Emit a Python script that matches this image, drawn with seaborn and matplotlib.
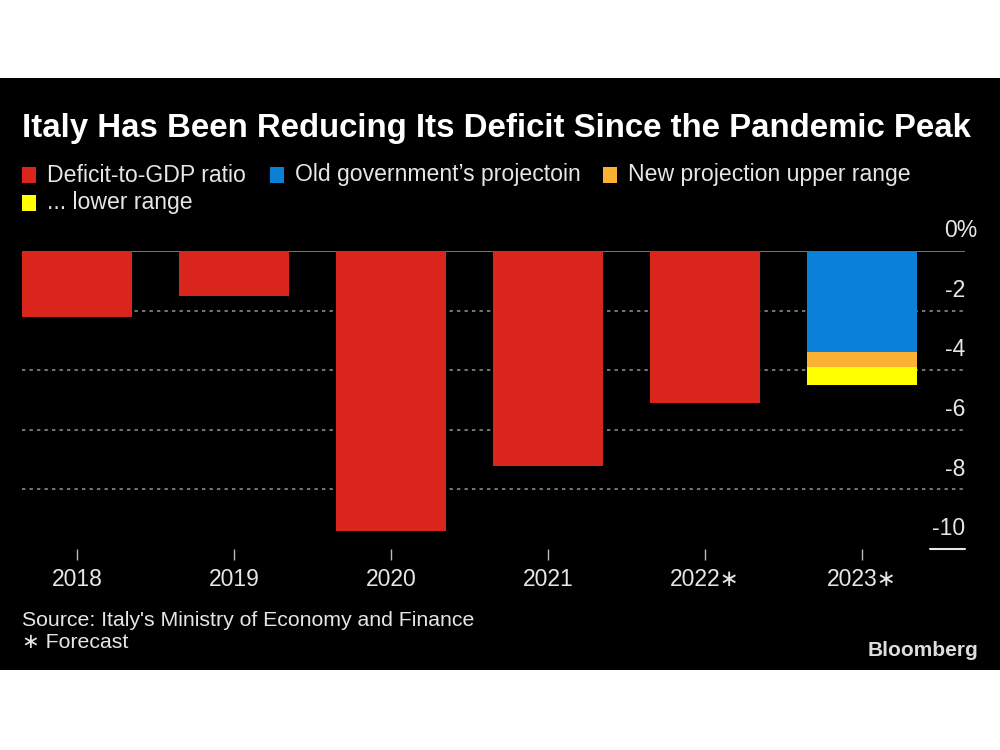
import matplotlib
matplotlib.use("Agg")
import matplotlib.pyplot as plt
import matplotlib.patches as mpatches
from matplotlib.transforms import blended_transform_factory
import seaborn as sns
import pandas as pd
import numpy as np

# ---- data ----
years = ["2018", "2019", "2020", "2021", "2022\u2217", "2023\u2217"]
deficit = [-2.2, -1.5, -9.4, -7.2, -5.1, np.nan]
old_projection = [np.nan, np.nan, np.nan, np.nan, np.nan, -3.4]
new_upper = [np.nan, np.nan, np.nan, np.nan, np.nan, -3.9]
new_lower = [np.nan, np.nan, np.nan, np.nan, np.nan, -4.5]
y_ticks = [0, -2, -4, -6, -8, -10]
y_tick_labels = ["0%", "-2", "-4", "-6", "-8", "-10"]
legend_labels = ["Deficit-to-GDP ratio", "Old government\u2019s projectoin",
                 "New projection upper range", "... lower range"]

RED = "#DA251D"
BLUE = "#0A80D8"
ORANGE = "#F9B233"
YELLOW = "#FFFF00"
GRID = "#8A8A8A"
TXT = "#E6E6E6"

sns.set_theme(style="white")
FONT = ["Liberation Sans", "DejaVu Sans"]
plt.rcParams["font.family"] = FONT

df = pd.DataFrame({"year": years, "deficit": deficit, "old": old_projection,
                   "upper": new_upper, "lower": new_lower})

fig = plt.figure(figsize=(10, 7.5), dpi=100, facecolor="white")
# black band
band = mpatches.Rectangle((0, 1 - 670 / 750), 1, (670 - 78) / 750,
                          transform=fig.transFigure, facecolor="black",
                          edgecolor="none", zorder=-10)
fig.patches.append(band)

ax = fig.add_axes([0.022, 1 - 549 / 750, 0.943, (549 - 251) / 750], zorder=5)
ax.patch.set_visible(False)

w = 0.70
for col, c in [("deficit", RED), ("lower", YELLOW), ("upper", ORANGE), ("old", BLUE)]:
    sns.barplot(data=df, x="year", y=col, color=c, width=w, ax=ax,
                saturation=1, zorder=3, linewidth=0, edgecolor="none")

ax.set_xlim(-0.35, 5.656)
ax.set_ylim(-10, 0)
for s in ax.spines.values():
    s.set_visible(False)
ax.set_xlabel("")
ax.set_ylabel("")
ax.set_yticks([])

# gridlines
for v in y_ticks:
    if v == 0:
        ax.axhline(v, color=GRID, lw=1.2, zorder=2)
    elif v == -10:
        ax.axhline(v, xmin=0.963, xmax=1.0, color=TXT, lw=1.5, zorder=2, clip_on=False)
    else:
        ax.axhline(v, color=GRID, lw=1.2, ls=(0, (2, 2.5)), zorder=1)

tr = blended_transform_factory(ax.transAxes, ax.transData)
for v, lab in zip(y_ticks, y_tick_labels):
    xpos = 1.0 if lab != "0%" else 1.013
    ax.text(xpos, v + 0.68, lab, transform=tr, ha="right", va="center",
            color=TXT, fontsize=16.5)

ax.tick_params(axis="x", bottom=True, length=8, width=1, color="#BBBBBB",
               labelcolor=TXT, labelsize=16.5, pad=6)
for t in ax.get_xticklabels():
    t.set_fontfamily(FONT)

# title
fig.text(0.022, 1 - 128 / 750, "Italy Has Been Reducing Its Deficit Since the Pandemic Peak",
         color="white", fontsize=23.8, fontweight="bold", va="center", ha="left")

# legend
def leg(x, y, color, label):
    fig.patches.append(mpatches.Rectangle((x / 1000, 1 - (y + 8) / 750), 14 / 1000, 16 / 750,
                                          transform=fig.transFigure, facecolor=color,
                                          edgecolor="none"))
    fig.text((x + 25) / 1000, 1 - y / 750, label, color=TXT, fontsize=16.6,
             va="center", ha="left")

leg(22, 175, RED, legend_labels[0])
leg(270, 175, BLUE, legend_labels[1])
leg(603, 175, ORANGE, legend_labels[2])
leg(22, 203, YELLOW, legend_labels[3])

fig.text(0.022, 1 - 620 / 750, "Source: Italy's Ministry of Economy and Finance",
         color=TXT, fontsize=15.3, va="center", ha="left")
fig.text(0.022, 1 - 643 / 750, "\u2217 Forecast", color=TXT, fontsize=15.3,
         va="center", ha="left")
fig.text(0.978, 1 - 651 / 750, "Bloomberg", color="#DDDDDD", fontsize=15,
         fontweight="bold", va="center", ha="right")

fig.savefig("out.png", dpi=100, facecolor="white")
